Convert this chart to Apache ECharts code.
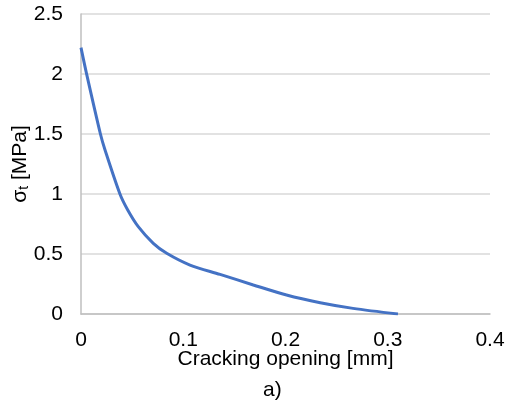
<!DOCTYPE html>
<html>
<head>
<meta charset="utf-8">
<script src="https://cdn.jsdelivr.net/npm/echarts@6/dist/echarts.min.js"></script>
<style>
  html, body { margin: 0; padding: 0; background: #fff; }
  #main { width: 507px; height: 404px; }
</style>
</head>
<body>
<div id="main"></div>
<script>
// crack opening [mm] and tensile stress [MPa]
var opening = [0, 0.0055, 0.019, 0.0235, 0.0381, 0.0457, 0.056, 0.0707, 0.0838, 0.1066, 0.136, 0.1685, 0.201, 0.234, 0.266, 0.31];
var stress  = [2.22, 2.0, 1.5, 1.367, 1.0, 0.867, 0.728, 0.589, 0.506, 0.408, 0.33, 0.242, 0.158, 0.094, 0.047, 0];

var chart = echarts.init(document.getElementById('main'));
var pts = [];
for (var i = 0; i < opening.length; i++) {
  pts.push([opening[i], stress[i]]);
}
var font = 'Liberation Sans, Arial, sans-serif';

var option = {
  animation: false,
  grid: {
    left: 81,
    right: 17,
    top: 14,
    bottom: 90,
    outerBoundsMode: 'none'
  },
  graphic: [{
    type: 'text',
    left: 263,
    top: 380,
    style: {
      text: 'a)',
      fontSize: 21,
      fontFamily: font,
      fill: '#000'
    }
  }],
  xAxis: {
    type: 'value',
    min: 0,
    max: 0.4,
    interval: 0.1,
    name: 'Cracking opening [mm]',
    nameLocation: 'middle',
    nameGap: 35,
    nameMoveOverlap: false,
    nameTextStyle: { color: '#000', fontSize: 21, fontFamily: font },
    axisLine: { lineStyle: { color: '#BFBFBF', width: 1.5 } },
    axisTick: { show: false },
    splitLine: { show: false },
    axisLabel: { color: '#000', fontSize: 21, fontFamily: font, margin: 16 }
  },
  yAxis: {
    type: 'value',
    min: 0,
    max: 2.5,
    interval: 0.5,
    name: '{s|σ}{sub|t}{s| [MPa]}',
    nameLocation: 'middle',
    nameGap: 50,
    nameMoveOverlap: false,
    nameTextStyle: {
      color: '#000',
      fontFamily: font,
      rich: {
        s: { fontSize: 21, fontFamily: font, color: '#000' },
        sub: { fontSize: 14, fontFamily: font, color: '#000', verticalAlign: 'bottom', padding: [8, 0, 0, 0] }
      }
    },
    axisLine: { show: true, lineStyle: { color: '#BFBFBF', width: 1.5 } },
    axisTick: { show: false },
    splitLine: { lineStyle: { color: '#D9D9D9', width: 1.5 } },
    axisLabel: { color: '#000', fontSize: 21, fontFamily: font, margin: 18 }
  },
  series: [{
    type: 'line',
    data: pts,
    smooth: 0.3,
    showSymbol: false,
    lineStyle: { color: '#4472C4', width: 3 }
  }]
};
chart.setOption(option);
</script>
</body>
</html>
